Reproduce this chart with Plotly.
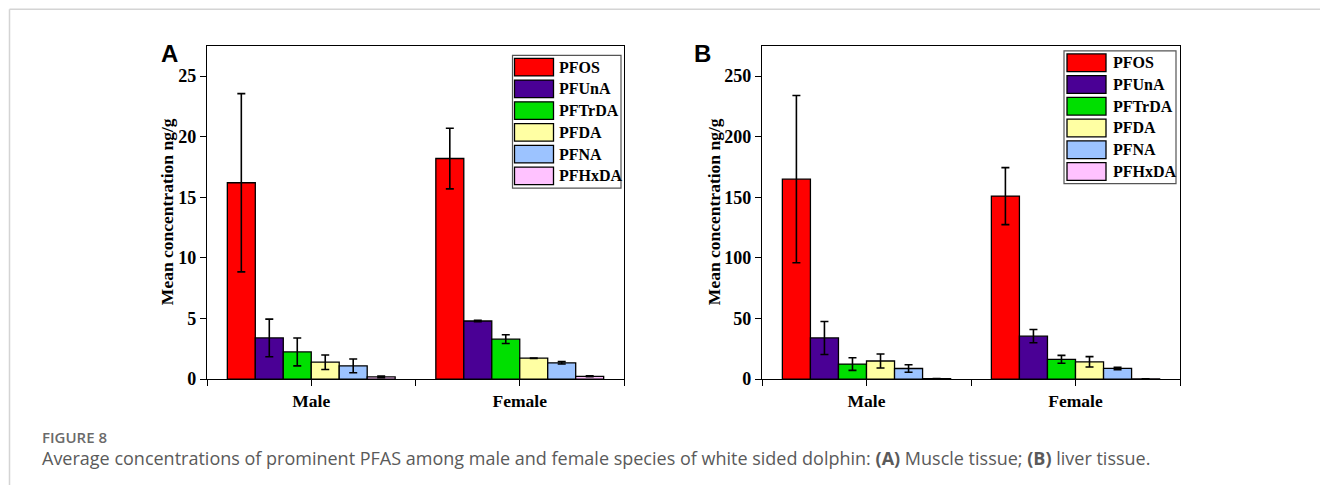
import plotly.graph_objects as go

# Mean PFAS concentrations (ng/g) with standard deviations
groups = ["Male", "Female"]
compounds = ["PFOS", "PFUnA", "PFTrDA", "PFDA", "PFNA", "PFHxDA"]
colors = ["#FF0000", "#4A0095", "#00DF00", "#FFFFA3", "#9CC3FF", "#FFC2FF"]

# Panel A: muscle tissue
muscle_male = [16.2, 3.4, 2.25, 1.4, 1.1, 0.19]
muscle_female = [18.2, 4.8, 3.3, 1.73, 1.35, 0.24]
muscle_male_sd = [7.35, 1.55, 1.15, 0.6, 0.57, 0.06]
muscle_female_sd = [2.5, 0.05, 0.36, 0.02, 0.1, 0.04]

# Panel B: liver tissue
liver_male = [165.0, 34.0, 12.5, 15.0, 8.8, 0.5]
liver_female = [151.0, 35.5, 16.4, 14.3, 8.9, 0.3]
liver_male_sd = [69.0, 13.6, 5.2, 5.8, 3.1, 0.1]
liver_female_sd = [23.5, 5.5, 3.2, 4.3, 1.0, 0.1]

W, H = 1320, 495


def px(x):
    return x / W


def py(y):
    return 1 - y / H


serif = "Liberation Serif"
fig = go.Figure()


def add_panel(means_m, means_f, sd_m, sd_f, xa, ya):
    for i, name in enumerate(compounds):
        fig.add_trace(go.Bar(
            x=[0, 1],
            y=[means_m[i], means_f[i]],
            name=name,
            marker=dict(color=colors[i], line=dict(color="black", width=1.3)),
            error_y=dict(type="data", array=[sd_m[i], sd_f[i]], visible=True,
                         color="black", thickness=1.6, width=4),
            xaxis=xa, yaxis=ya, offsetgroup=str(i), showlegend=False,
        ))


add_panel(muscle_male, muscle_female, muscle_male_sd, muscle_female_sd, "x", "y")
add_panel(liver_male, liver_female, liver_male_sd, liver_female_sd, "x2", "y2")

ydom = [py(387), py(46.7)]
axis_common = dict(showline=True, linecolor="black", linewidth=1.3, mirror=True,
                   ticks="outside", ticklen=6, tickwidth=1.3, tickcolor="black",
                   showgrid=False, zeroline=False)
xticks = dict(tickmode="array", tickvals=[-0.5, 0, 0.5, 1, 1.5],
              ticktext=["", groups[0], "", groups[1], ""], range=[-0.5, 1.5],
              tickfont=dict(family=serif, size=17.5, color="black", weight="bold"))
yfont = dict(family=serif, size=18, color="black", weight="bold")

fig.update_layout(
    width=W, height=H, margin=dict(l=0, r=0, t=0, b=0),
    paper_bgcolor="white", plot_bgcolor="white",
    barmode="group", bargap=0.195, bargroupgap=0,
    xaxis=dict(domain=[px(207), px(624)], anchor="y", **xticks, **axis_common),
    yaxis=dict(domain=ydom, anchor="x", range=[0, 27.5], tickvals=[0, 5, 10, 15, 20, 25],
               tickfont=yfont, **axis_common),
    xaxis2=dict(domain=[px(762), px(1180)], anchor="y2", **xticks, **axis_common),
    yaxis2=dict(domain=ydom, anchor="x2", range=[0, 275], tickvals=[0, 50, 100, 150, 200, 250],
                tickfont=yfont, **axis_common),
)

shapes = []
annotations = []

# Page frame lines
shapes.append(dict(type="line", xref="paper", yref="paper", x0=px(9.5), x1=1,
                   y0=py(9.5), y1=py(9.5), line=dict(color="#d4d4d4", width=1.5)))
shapes.append(dict(type="line", xref="paper", yref="paper", x0=px(9.5), x1=px(9.5),
                   y0=py(9.5), y1=0, line=dict(color="#d4d4d4", width=1.5)))


def add_legend(box, sw_x, txt_x, top, pitch):
    bx0, by0, bx1, by1 = box
    shapes.append(dict(type="rect", xref="paper", yref="paper",
                       x0=px(bx0), x1=px(bx1), y0=py(by0), y1=py(by1),
                       line=dict(color="#555555", width=1.2), fillcolor="white"))
    for i, name in enumerate(compounds):
        y0 = top + i * pitch
        shapes.append(dict(type="rect", xref="paper", yref="paper",
                           x0=px(sw_x), x1=px(sw_x + 39), y0=py(y0), y1=py(y0 + 18),
                           line=dict(color="black", width=1.3), fillcolor=colors[i]))
        annotations.append(dict(x=px(txt_x), y=py(y0 + 9), xref="paper", yref="paper",
                                text=name, showarrow=False, xanchor="left", yanchor="middle",
                                font=dict(family=serif, size=16, color="black", weight="bold")))


add_legend((512.5, 56.5, 621, 192), 514.5, 557, 59.5, 22.2)
add_legend((1064, 52, 1176, 187.5), 1067, 1111, 55, 22.2)

# Panel letters
for letter, x in (("A", 169), ("B", 702)):
    annotations.append(dict(x=px(x), y=py(55), xref="paper", yref="paper", text=letter,
                            showarrow=False, xanchor="center", yanchor="middle",
                            font=dict(family="Liberation Sans", size=24, color="black",
                                      weight="bold")))

# Y-axis titles
for x in (167, 714):
    annotations.append(dict(x=px(x), y=py(216.5), xref="paper", yref="paper",
                            text="Mean concentration ng/g", textangle=-90, showarrow=False,
                            xanchor="center", yanchor="middle",
                            font=dict(family=serif, size=17.5, color="black", weight="bold")))

# Caption
annotations.append(dict(x=px(40), y=py(446), xref="paper", yref="paper", text="FIGURE 8",
                        showarrow=False, xanchor="left", yanchor="middle",
                        font=dict(family="Open Sans", size=15, color="#6a6a6a", weight=600)))
annotations.append(dict(
    x=px(40), y=py(467), xref="paper", yref="paper",
    text="Average concentrations of prominent PFAS among male and female species of white "
         "sided dolphin: <b>(A)</b> Muscle tissue; <b>(B)</b> liver tissue.",
    showarrow=False, xanchor="left", yanchor="middle",
    font=dict(family="Open Sans", size=18, color="#5a5a5a")))

fig.update_layout(shapes=shapes, annotations=annotations)
fig.write_html("out.html")
